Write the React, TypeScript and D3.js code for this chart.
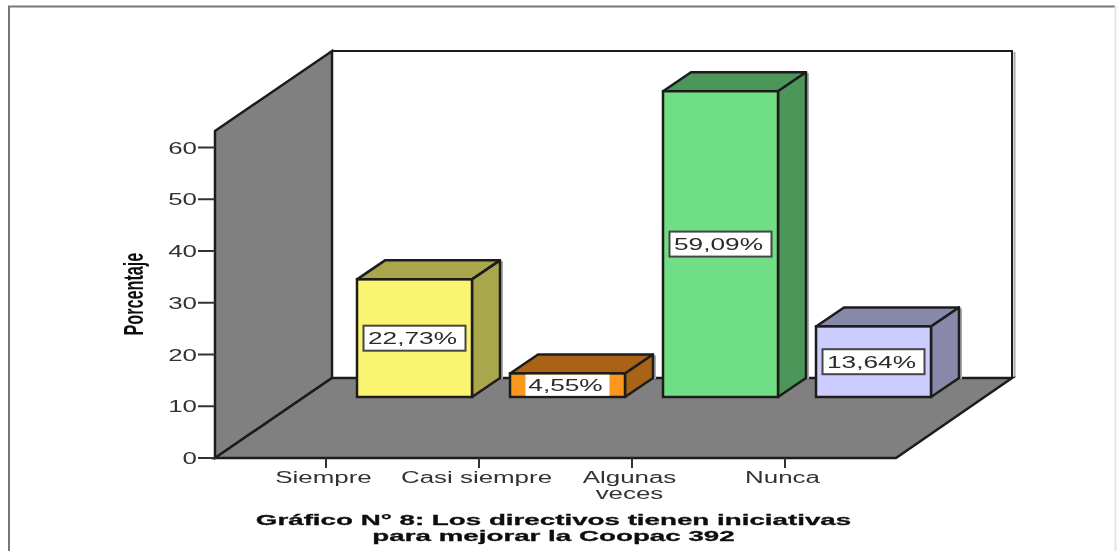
import React from "react";
import * as d3 from "d3";

const categories = ["Siempre", "Casi siempre", "Algunas veces", "Nunca"];
const categoryLines = [["Siempre"], ["Casi siempre"], ["Algunas", "veces"], ["Nunca"]];
const values = [22.73, 4.55, 59.09, 13.64];
const valueLabels = ["22,73%", "4,55%", "59,09%", "13,64%"];
const yTicks = [0, 10, 20, 30, 40, 50, 60];
const frontColors = ["#FBF46F", "#F9981C", "#70DE84", "#CCCCFF"];
const darkColors = ["#A8A74C", "#AA6414", "#4B9659", "#8888AA"];
const titleLines = ["Gráfico N° 8: Los directivos tienen iniciativas", "para mejorar la Coopac 392"];

const FONT = "'Liberation Sans', Arial, sans-serif";
const INK = "#1c1c1c";

const yScale = d3.scaleLinear().domain([0, 60]).range([458, 147.5]);
const xScale = d3.scaleBand<string>().domain(categories).range([249.5, 861.5]);
const lineGen = d3.line();
const poly = (pts: [number, number][]) => lineGen(pts) + "Z";

const barOffset = 88.5, barW = 115, barDx = 28, barDy = 19;
const floorDrop = 61;
const unit = yScale(0) - yScale(1);
const SW = 2.5;

function T({ x, y, s, sx, bold, anchor = "middle", fill = "#333", stroke, children }: any) {
  return (
    <text
      transform={`translate(${x},${y}) scale(${sx},1)`}
      fontFamily={FONT}
      fontSize={s}
      fontWeight={bold ? 700 : 400}
      textAnchor={anchor}
      fill={fill}
      stroke={stroke || "none"}
      strokeWidth={stroke ? 0.3 : 0}
    >
      {children}
    </text>
  );
}

export default function App() {
  const bw = xScale.bandwidth();
  return (
    <svg width={1117} height={551} style={{ position: "absolute", left: 0, top: 0, background: "#fff" }}>
      <defs>
        <filter id="soft" x="0" y="0" width="100%" height="100%">
          <feGaussianBlur stdDeviation="0.5" />
        </filter>
      </defs>
      <g filter="url(#soft)">
        <rect x={0} y={0} width={1117} height={551} fill="#fff" />
        {/* outer frame */}
        <path d="M9,551V6.5H1115" fill="none" stroke="#777" strokeWidth={2} />
        <path d="M1115.5,6V551" fill="none" stroke="#e6e6e6" strokeWidth={2} />

        {/* walls */}
        <path d="M1014.5,52V378" stroke="#aaa" strokeWidth={2} fill="none" />
        <path d="M332,51H1012V378" fill="none" stroke={INK} strokeWidth={2} />
        <path d={poly([[215, 131], [332, 51], [332, 378], [215, 458]])} fill="#808080" stroke={INK} strokeWidth={SW} />
        <path d={poly([[215, 458], [332, 378], [1012, 378], [896, 458]])} fill="#808080" stroke={INK} strokeWidth={SW} />

        {/* y axis */}
        {yTicks.map((t) => (
          <g key={t}>
            <line x1={198} x2={215} y1={yScale(t)} y2={yScale(t)} stroke="#333" strokeWidth={2} />
            <T x={197} y={yScale(t) + 6} s={16} sx={1.62} anchor="end">{t}</T>
          </g>
        ))}

        {/* x axis */}
        {categories.map((c, i) => {
          const cx = xScale(c)! + bw / 2;
          return (
            <g key={c}>
              <line x1={cx} x2={cx} y1={458} y2={468} stroke="#333" strokeWidth={2} />
              {categoryLines[i].map((l, j) => (
                <T key={l} x={cx - 2.5} y={483 + j * 16} s={16} sx={1.62}>{l}</T>
              ))}
            </g>
          );
        })}

        {/* bars */}
        {categories.map((c, i) => {
          const x0 = xScale(c)! + bw / 2 + barOffset - barW / 2;
          const x1 = x0 + barW;
          const base = yScale(0) - floorDrop;
          const top = base - values[i] * unit;
          const cx = (x0 + x1) / 2;
          const cy = (top + base) / 2;
          const small = i === 1;
          const boxW = small ? 84 : 102;
          const boxH = small ? base - top - SW : 25;
          return (
            <g key={c}>
              <path d={`M${x1 + barDx + 2},${top - barDy + 1}V${base - barDy + 1}`} stroke="#aaa" strokeWidth={2} fill="none" />
              <path
                d={poly([[x0, top], [x0 + barDx, top - barDy], [x1 + barDx, top - barDy], [x1, top]])}
                fill={darkColors[i]}
                stroke={INK}
                strokeWidth={SW}
                strokeLinejoin="round"
              />
              <path
                d={poly([[x1, top], [x1 + barDx, top - barDy], [x1 + barDx, base - barDy], [x1, base]])}
                fill={darkColors[i]}
                stroke={INK}
                strokeWidth={SW}
                strokeLinejoin="round"
              />
              <rect x={x0} y={top} width={barW} height={base - top} fill={frontColors[i]} stroke={INK} strokeWidth={SW} />
              <rect
                x={cx - boxW / 2}
                y={cy - boxH / 2}
                width={boxW}
                height={boxH}
                fill="#fff"
                stroke={small ? "none" : "#444"}
                strokeWidth={2}
              />
              <T x={cx - 2} y={cy + 6} s={16} sx={1.64} fill="#2a2a2a">{valueLabels[i]}</T>
            </g>
          );
        })}

        {/* axis title */}
        <text
          transform="translate(143,335.5) rotate(-90) scale(0.6,1)"
          fontFamily={FONT}
          fontSize={27}
          fontWeight={700}
          fill="#111"
        >
          Porcentaje
        </text>

        {/* chart title */}
        {titleLines.map((l, i) => (
          <T key={l} x={553.5} y={525 + i * 16} s={15} sx={1.85} bold fill="#111" stroke="#111">{l}</T>
        ))}
      </g>
    </svg>
  );
}
